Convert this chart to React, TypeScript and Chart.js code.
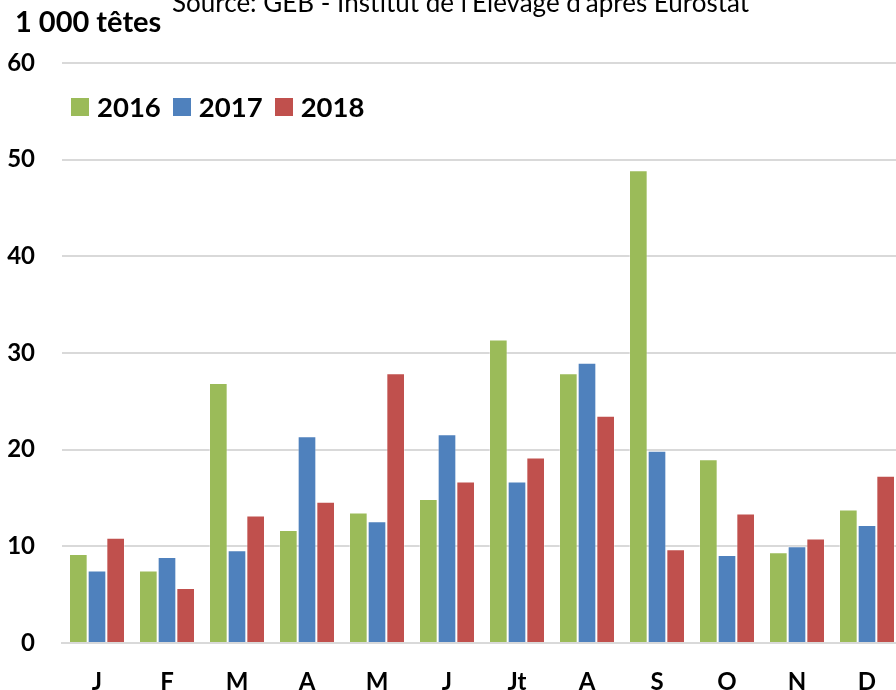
import React, { useEffect, useRef } from "react";
import { Chart, registerables } from "chart.js";

Chart.register(...registerables);

const months = ["J", "F", "M", "A", "M", "J", "Jt", "A", "S", "O", "N", "D"];
const values2016 = [9.2, 7.5, 26.9, 11.7, 13.5, 14.9, 31.4, 27.9, 48.9, 19.0, 9.4, 13.8];
const values2017 = [7.5, 8.9, 9.6, 21.4, 12.6, 21.6, 16.7, 29.0, 19.9, 9.1, 10.0, 12.2];
const values2018 = [10.9, 5.7, 13.2, 14.6, 27.9, 16.7, 19.2, 23.5, 9.7, 13.4, 10.8, 17.3];
const seriesLabels = ["2016", "2017", "2018"];
const seriesColors = ["#9BBB59", "#4F81BD", "#C0504D"];
const yMin = 0;
const yMax = 60;
const yStep = 10;
const unitLabel = "1 000 têtes";
const sourceLabel = "Source: GEB - Institut de l'Elevage d'après Eurostat";

const FONT = "Lato, 'Open Sans', sans-serif";

export default function App() {
  const canvasRef = useRef<HTMLCanvasElement | null>(null);

  useEffect(() => {
    if (!canvasRef.current) return;
    const seriesValues = [values2016, values2017, values2018];
    const chart = new Chart(canvasRef.current, {
      type: "bar",
      data: {
        labels: months,
        datasets: seriesLabels.map((label, i) => ({
          label,
          data: seriesValues[i],
          backgroundColor: seriesColors[i],
          borderColor: "rgba(255,255,255,0.35)",
          borderWidth: 1,
          categoryPercentage: 0.8,
          barPercentage: 1.0,
        })),
      },
      options: {
        animation: false,
        responsive: true,
        maintainAspectRatio: false,
        layout: { padding: { top: 63, left: 0, right: 0, bottom: 0 } },
        plugins: {
          legend: { display: false },
          tooltip: { enabled: false },
          title: { display: false },
        },
        scales: {
          x: {
            grid: { display: false, drawTicks: false },
            border: { display: true, color: "#d9d9d9", width: 2 },
            ticks: {
              color: "#000",
              padding: 25,
              font: { family: FONT, size: 24, weight: "bold" },
            },
            afterFit: (scale: any) => {
              scale.height = 47;
            },
          },
          y: {
            min: yMin,
            max: yMax,
            grid: { color: "#d9d9d9", lineWidth: 2, drawTicks: false },
            border: { display: false },
            ticks: {
              stepSize: yStep,
              color: "#000",
              padding: 27,
              font: { family: FONT, size: 24, weight: "bold" },
            },
            afterFit: (scale: any) => {
              scale.width = 62;
            },
          },
        },
      },
    });
    return () => chart.destroy();
  }, []);

  return (
    <div
      style={{
        position: "fixed",
        left: 0,
        top: 0,
        width: 896,
        height: 690,
        overflow: "hidden",
        background: "#fff",
        fontFamily: FONT,
      }}
    >
      <div style={{ position: "absolute", left: 0, top: 0, width: 902, height: 690 }}>
        <canvas ref={canvasRef} />
      </div>
      <div
        style={{
          position: "absolute",
          left: 15,
          top: 6,
          fontSize: 29,
          lineHeight: "29px",
          fontWeight: "bold",
          color: "#000",
          whiteSpace: "nowrap",
        }}
      >
        {unitLabel}
      </div>
      <div
        style={{
          position: "absolute",
          left: 172,
          top: -11,
          fontSize: 26,
          lineHeight: "26px",
          color: "#000",
          whiteSpace: "nowrap",
        }}
      >
        {sourceLabel}
      </div>
      <div
        style={{
          position: "absolute",
          left: 71,
          top: 92,
          display: "flex",
          alignItems: "center",
          height: 30,
        }}
      >
        {seriesLabels.map((label, i) => (
          <div key={label} style={{ display: "flex", alignItems: "center", marginRight: 12 }}>
            <span
              style={{
                display: "inline-block",
                width: 18,
                height: 18,
                background: seriesColors[i],
                marginRight: 8,
              }}
            />
            <span style={{ fontSize: 27.5, fontWeight: "bold", color: "#000", lineHeight: "30px" }}>
              {label}
            </span>
          </div>
        ))}
      </div>
    </div>
  );
}
